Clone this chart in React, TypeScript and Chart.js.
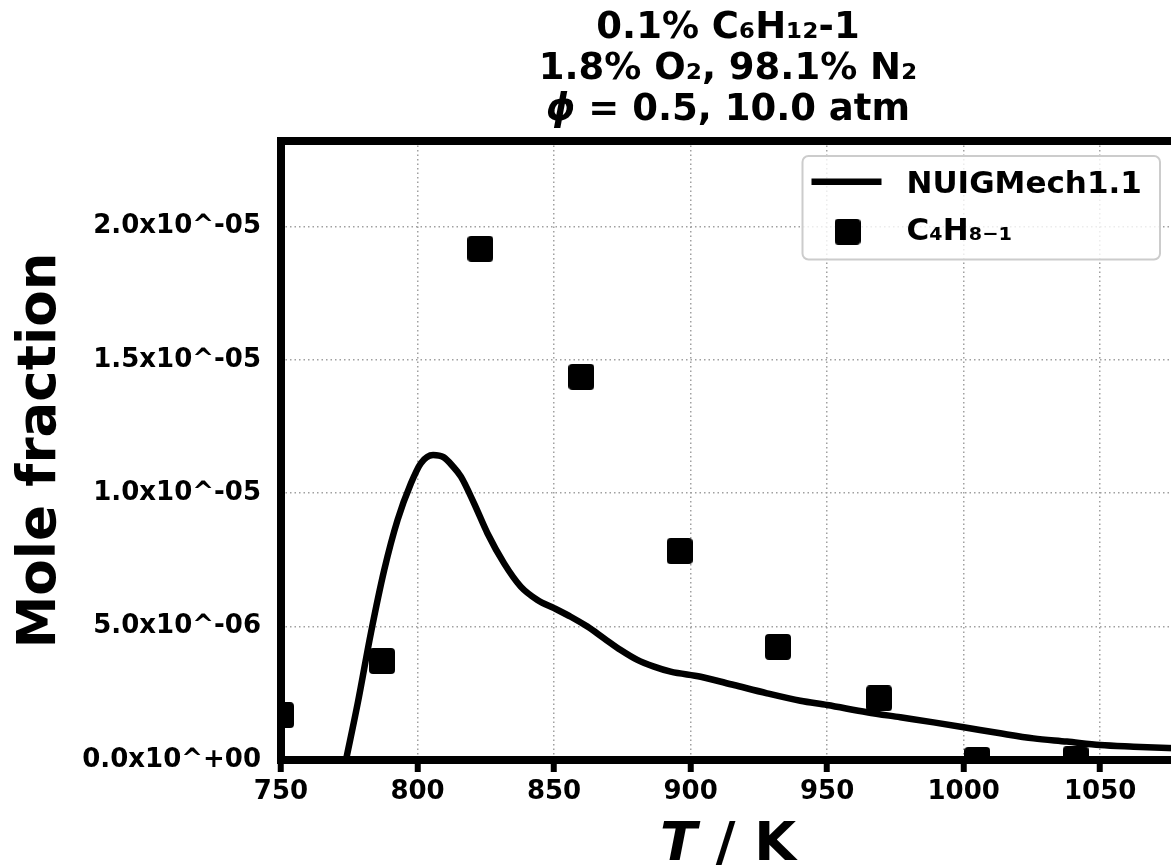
import React, { useEffect, useRef } from "react";
import { Chart, registerables } from "chart.js";

Chart.register(...registerables);

// ---------- data ----------
const TITLE_LINES = ["0.1% C₆H₁₂-1", "1.8% O₂, 98.1% N₂"];
const TITLE_PHI = "ϕ";
const TITLE_REST = " = 0.5, 10.0 atm";
const X_TITLE_ITALIC = "T";
const X_TITLE_REST = " / K";
const Y_TITLE = "Mole fraction";
const SIM_LABEL = "NUIGMech1.1";
const EXP_LABEL = "C₄H₈₋₁";

// simulation curve (T in K, mole fraction in units of 1e-6)
const simT = [773.8, 778.1, 782.9, 787.8, 792.7, 797.6, 801.2, 805.7, 809.5, 813, 815.9, 820.7, 825.6, 831.7, 837.8, 843.9, 850, 856.1, 862.2, 868.3, 874.4, 880.5, 886.6, 892.7, 903.7, 915.9, 928, 940.2, 950, 964.6, 976.8, 989, 1000, 1013.4, 1025.6, 1037.8, 1050, 1062.2, 1077.4];
const simY = [0.0, 2.13, 4.75, 7.12, 9.0, 10.37, 11.12, 11.43, 11.35, 11.0, 10.62, 9.62, 8.5, 7.37, 6.5, 6.0, 5.69, 5.37, 5.0, 4.56, 4.12, 3.75, 3.5, 3.31, 3.12, 2.81, 2.5, 2.22, 2.06, 1.79, 1.6, 1.41, 1.23, 1.0, 0.81, 0.69, 0.56, 0.5, 0.44];

// experimental points
const expT = [750, 787, 823, 860, 896, 932, 969, 1005, 1041];
const expY = [1.68, 3.71, 19.16, 14.36, 7.83, 4.24, 2.31, 0.0, 0.03];

const Y_UNIT = 1e-6;
const X_MIN = 750;
const X_MAX = 1077.4;
const X_STEP = 50;
const Y_MIN = 0;
const Y_MAX = 2.32e-5;
const Y_STEP = 5e-6;

const FONT = '"DejaVu Sans", "Liberation Sans", sans-serif';

function sciLabel(v: number): string {
  if (Math.abs(v) < 1e-15) return "0.0x10^+00";
  const e = Math.floor(Math.log10(Math.abs(v)) + 1e-9);
  const m = v / Math.pow(10, e);
  const sign = e < 0 ? "-" : "+";
  return `${m.toFixed(1)}x10^${sign}${String(Math.abs(e)).padStart(2, "0")}`;
}

export default function App() {
  const ref = useRef<HTMLCanvasElement | null>(null);

  useEffect(() => {
    const canvas = ref.current;
    if (!canvas) return;

    const mk = document.createElement("canvas");
    mk.width = 26;
    mk.height = 26;
    const mctx = mk.getContext("2d")!;
    mctx.fillStyle = "#000";
    mctx.beginPath();
    (mctx as any).roundRect(0, 0, 26, 26, 4);
    mctx.fill();

    const decor = {
      id: "decor",
      afterDatasetsDraw(chart: any) {
        const { ctx, chartArea: a } = chart;
        ctx.save();
        ctx.strokeStyle = "#000";
        ctx.lineWidth = 8;
        ctx.lineJoin = "miter";
        ctx.strokeRect(a.left, a.top, a.right - a.left, a.bottom - a.top);
        ctx.restore();
      },
      afterDraw(chart: any) {
        const { ctx, chartArea: a } = chart;
        const cx = (a.left + a.right) / 2;
        ctx.save();
        ctx.fillStyle = "#000";
        ctx.textBaseline = "alphabetic";

        // title
        const tBold = `bold 37px ${FONT}`;
        const tIt = `italic bold 37px ${FONT}`;
        ctx.font = tBold;
        ctx.textAlign = "center";
        ctx.fillText(TITLE_LINES[0], cx, 38);
        ctx.fillText(TITLE_LINES[1], cx, 79);
        ctx.font = tIt;
        const w1 = ctx.measureText(TITLE_PHI).width;
        ctx.font = tBold;
        const w2 = ctx.measureText(TITLE_REST).width;
        ctx.textAlign = "left";
        const x0 = cx - (w1 + w2) / 2;
        ctx.font = tIt;
        ctx.fillText(TITLE_PHI, x0, 120);
        ctx.font = tBold;
        ctx.fillText(TITLE_REST, x0 + w1, 120);

        // x axis title
        const xBold = `bold 54px ${FONT}`;
        const xIt = `italic bold 54px ${FONT}`;
        ctx.font = xIt;
        const xw1 = ctx.measureText(X_TITLE_ITALIC).width;
        ctx.font = xBold;
        const xw2 = ctx.measureText(X_TITLE_REST).width;
        const xx0 = cx - (xw1 + xw2) / 2;
        ctx.font = xIt;
        ctx.fillText(X_TITLE_ITALIC, xx0, 860);
        ctx.font = xBold;
        ctx.fillText(X_TITLE_REST, xx0 + xw1, 860);

        // y axis title
        ctx.save();
        ctx.translate(55, (a.top + a.bottom) / 2);
        ctx.rotate(-Math.PI / 2);
        ctx.textAlign = "center";
        ctx.font = `bold 53px ${FONT}`;
        ctx.fillText(Y_TITLE, 0, 0);
        ctx.restore();

        // legend
        const lx = 802.5, ly = 156, lw = 357.5, lh = 103.5;
        ctx.beginPath();
        (ctx as any).roundRect(lx, ly, lw, lh, 6);
        ctx.fillStyle = "rgba(255,255,255,0.8)";
        ctx.fill();
        ctx.strokeStyle = "#cccccc";
        ctx.lineWidth = 2;
        ctx.stroke();

        ctx.strokeStyle = "#000";
        ctx.lineWidth = 6.5;
        ctx.lineCap = "butt";
        ctx.beginPath();
        ctx.moveTo(811.5, 181.7);
        ctx.lineTo(881.5, 181.7);
        ctx.stroke();
        ctx.drawImage(mk, 847.5 - 13, 231.7 - 13);

        ctx.fillStyle = "#000";
        ctx.textAlign = "left";
        ctx.font = `bold 31px ${FONT}`;
        ctx.fillText(SIM_LABEL, 906.5, 193.3);
        ctx.fillText(EXP_LABEL, 906.5, 240);
        ctx.restore();
      },
    };

    const tickFont = { family: FONT, size: 26, weight: "bold" as const };

    const chart = new Chart(canvas, {
      type: "scatter",
      data: {
        datasets: [
          {
            label: SIM_LABEL,
            data: simT.map((t, i) => ({ x: t, y: simY[i] * Y_UNIT })),
            showLine: true,
            borderColor: "#000",
            backgroundColor: "#000",
            borderWidth: 6.5,
            pointRadius: 0,
            cubicInterpolationMode: "monotone",
            clip: 0,
            order: 2,
          } as any,
          {
            label: EXP_LABEL,
            data: expT.map((t, i) => ({ x: t, y: expY[i] * Y_UNIT })),
            showLine: false,
            pointStyle: mk,
            pointRadius: 13,
            backgroundColor: "#000",
            borderColor: "#000",
            clip: 0,
            order: 1,
          } as any,
        ],
      },
      options: {
        animation: false,
        responsive: false,
        devicePixelRatio: 1,
        events: [],
        layout: { padding: { left: 0, right: 55, top: 141, bottom: 0 } },
        plugins: {
          legend: { display: false },
          title: { display: false },
          tooltip: { enabled: false },
        },
        scales: {
          x: {
            type: "linear",
            min: X_MIN,
            max: X_MAX,
            afterFit: (s: any) => {
              s.height = 107;
            },
            ticks: {
              stepSize: X_STEP,
              includeBounds: false,
              autoSkip: false,
              maxRotation: 0,
              color: "#000",
              font: tickFont,
              padding: 5,
              callback: (v: any) => String(v),
            },
            grid: {
              color: "#a0a0a0",
              lineWidth: 1.5,
              drawTicks: true,
              tickLength: 12,
              tickColor: "#000",
              tickWidth: 6,
              tickBorderDash: [],
            },
            border: { display: false, dash: [1.5, 3] },
          } as any,
          y: {
            type: "linear",
            min: Y_MIN,
            max: Y_MAX,
            afterFit: (s: any) => {
              s.width = 281;
            },
            ticks: {
              stepSize: Y_STEP,
              includeBounds: false,
              color: "#000",
              font: tickFont,
              padding: 20,
              callback: (v: any) => sciLabel(Number(v)),
            },
            grid: {
              color: "#a0a0a0",
              lineWidth: 1.5,
              drawTicks: false,
            },
            border: { display: false, dash: [1.5, 3] },
          } as any,
        },
      },
      plugins: [decor],
    });

    return () => chart.destroy();
  }, []);

  return (
    <div
      style={{
        position: "fixed",
        left: 0,
        top: 0,
        width: 1171,
        height: 867,
        overflow: "hidden",
        background: "#fff",
      }}
    >
      <canvas ref={ref} width={1230} height={867} style={{ display: "block", width: 1230, height: 867 }} />
    </div>
  );
}
